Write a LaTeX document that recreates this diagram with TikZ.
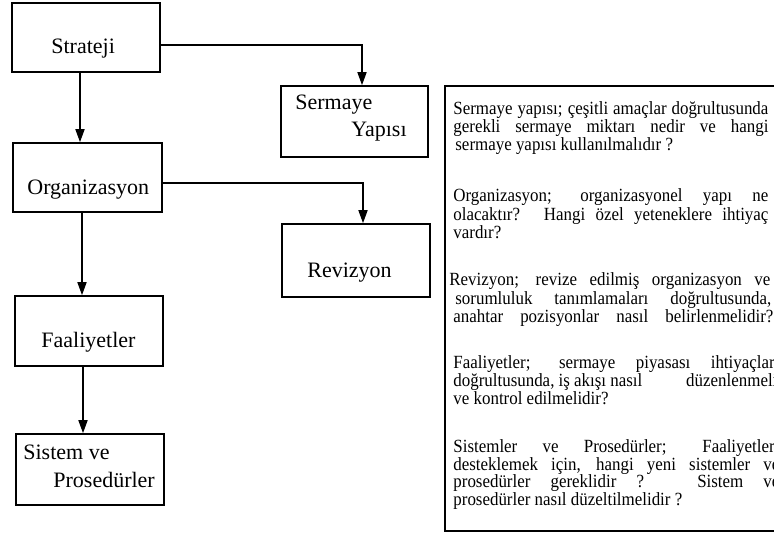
\documentclass[tikz,border=0pt]{standalone}
\usepackage{fontspec}
\setmainfont{Liberation Serif}
\newfontfamily\notefont[FakeStretch=0.91]{Liberation Serif}
\usetikzlibrary{arrows.meta,calc}
\begin{document}
\begin{tikzpicture}[x=0.5pt,y=-0.5pt,
  box/.style={draw, line width=0.8pt, inner sep=0, minimum width=74pt, minimum height=35pt},
  lbl/.style={anchor=base west, inner sep=0, font=\fontsize{11}{13}\selectfont},
  txt/.style={anchor=base west, inner sep=0, font=\notefont\fontsize{9.3}{10}\selectfont},
  arr/.style={line width=0.8pt, -{Triangle[length=6.5pt,width=4.5pt]}}]
\useasboundingbox (0,0) rectangle (774,534);

% flow boxes
\node[box, minimum height=34.5pt] (strateji) at (86,37.5) {};
\node[box, minimum width=74.5pt, minimum height=34.5pt] (organizasyon) at (87.5,177.5) {};
\node[box] (faaliyetler) at (89,331) {};
\node[box, minimum height=35.5pt] (sistem) at (90,469.5) {};
\node[box, minimum width=73.5pt, minimum height=35.5pt] (sermaye) at (354.5,121.5) {};
\node[box, minimum height=36.5pt] (revizyon) at (356,260.5) {};

% box labels
\node[lbl] (lStrateji) at (51,54) {Strateji};
\node[lbl] (lOrg) at (27,194) {Organizasyon};
\node[lbl] (lFaal) at (41,347) {Faaliyetler};
\node[lbl] (lSis1) at (23,459) {Sistem ve};
\node[lbl] (lSis2) at (53,487) {Prosedürler};
\node[lbl] (lSer1) at (295,110) {Sermaye};
\node[lbl] (lSer2) at (351,137) {Yapısı};
\node[lbl] (lRev) at (307,277) {Revizyon};

% connectors
\coordinate (c1) at ($(strateji.south)+(-6,0)$);
\coordinate (c2) at ($(organizasyon.south)+(-5.5,0)$);
\coordinate (c3) at ($(faaliyetler.south)+(-6,0)$);
\draw[arr] (c1) -- (c1 |- organizasyon.north);
\draw[arr] (c2) -- (c2 |- faaliyetler.north);
\draw[arr] (c3) -- (c3 |- sistem.north);
\draw[arr] ($(strateji.east)+(0,7.5)$) -| ($(sermaye.north)+(7.5,0)$);
\draw[arr] ($(organizasyon.east)+(0,5.5)$) -| ($(revizyon.north)+(7,0)$);

% explanation panel (its right side runs past the page edge)
\node[draw, line width=0.8pt, inner sep=0, anchor=north west,
      minimum width=173pt, minimum height=222.5pt] (notes) at (444,85) {};

\node[txt] (p1a) at (453,115) {\makebox[157.5pt][s]{Sermaye yapısı; çeşitli amaçlar doğrultusunda}};
\node[txt] (p1b) at (453,133) {\makebox[157.5pt][s]{gerekli sermaye miktarı nedir ve hangi}};
\node[txt] (p1c) at (455,151) {sermaye yapısı kullanılmalıdır ?};

\node[txt] (p2a) at (453,201) {\makebox[157.5pt][s]{Organizasyon; organizasyonel yapı ne}};
\node[txt] (p2b) at (453,220) {\makebox[157.5pt][s]{olacaktır? Hangi özel yeteneklere ihtiyaç}};
\node[txt] (p2c) at (453,238) {vardır?};

\node[txt] (p3a) at (449,285) {\makebox[160.5pt][s]{Revizyon; revize edilmiş organizasyon ve}};
\node[txt] (p3b) at (455,304) {\makebox[158pt][s]{sorumluluk tanımlamaları doğrultusunda,}};
\node[txt] (p3c) at (453,322) {\makebox[160pt][s]{anahtar pozisyonlar nasıl belirlenmelidir?}};

\node[txt] (p4a) at (453,368) {\makebox[163pt][s]{Faaliyetler; sermaye piyasası ihtiyaçları}};
\node[txt] (p4b) at (453,386) {\makebox[162pt][l]{doğrultusunda, iş akışı nasıl\hfill düzenlenmeli}};
\node[txt] (p4c) at (453,404) {ve kontrol edilmelidir?};

\node[txt] (p5a) at (453,452) {\makebox[163pt][s]{Sistemler ve Prosedürler; Faaliyetleri}};
\node[txt] (p5b) at (453,470) {\makebox[163pt][s]{desteklemek için, hangi yeni sistemler ve}};
\node[txt] (p5c) at (453,487) {\makebox[163pt][s]{prosedürler gereklidir ? Sistem ve}};
\node[txt] (p5d) at (453,505) {prosedürler nasıl düzeltilmelidir ?};
\end{tikzpicture}
\end{document}
